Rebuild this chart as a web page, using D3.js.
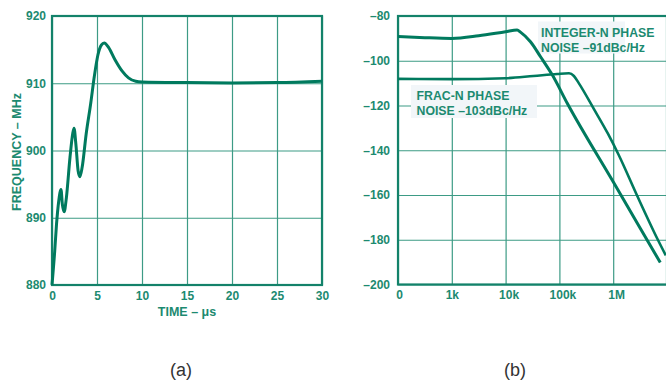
<!DOCTYPE html>
<html><head><meta charset="utf-8">
<script src="https://cdn.jsdelivr.net/npm/d3@7/dist/d3.min.js"></script>
<style>
body{margin:0;background:#fff;}
svg{display:block;}
text{font-family:"Liberation Sans",Arial,Helvetica,sans-serif;}
</style></head>
<body>
<svg id="c" width="666" height="382"></svg>
<script>
// ---- Chart (a): frequency settling ----
const timeUs = [0,0.3,0.5,0.75,1.0,1.15,1.35,1.6,2.0,2.3,2.45,2.65,2.9,3.1,3.35,3.8,4.3,4.7,5.1,5.5,5.8,6.3,7.0,7.8,8.5,9.3,10,15,20,25,30];
const freqMHz = [880,885,889,892.5,894.2,892,890.9,893,899,902.5,903.3,901,897,896.1,897.5,902.5,907,911,914.2,915.7,916,915.3,913.5,911.8,910.8,910.3,910.2,910.1,910.05,910.1,910.3];
const aXTicks = [0,5,10,15,20,25,30];
const aYTicks = [880,890,900,910,920];

// ---- Chart (b): phase noise ----
const intFreqHz = [100,316,1000,3160,10000,16400,18900,29000,44600,73600,140000,1000000,3160000,7500000];
const intDb = [-89.2,-89.7,-90.0,-88.8,-87.0,-86.25,-87.2,-91.5,-98.2,-106.3,-119,-154.1,-174.7,-190.2];
const fracFreqHz = [100,1000,10000,33000,91000,151000,186000,229000,436000,794000,1260000,2750000,6760000,9500000];
const fracDb = [-108.1,-108.2,-107.8,-106.8,-105.9,-105.6,-106.8,-110,-121.5,-132.5,-142,-160,-180,-187];
const bXTicks = [100,1000,10000,100000,1000000];
const bXLabels = ["0","1k","10k","100k","1M"];
const bYTicks = [-200,-180,-160,-140,-120,-100,-80];
const labelInt = ["INTEGER-N PHASE","NOISE \u201391dBc/Hz"];
const labelFrac = ["FRAC-N PHASE","NOISE \u2013103dBc/Hz"];

const TEAL_TXT = "#1c8a70", TEAL_LINE = "#007a5e", GRID = "#3d9b85", FRAME = "#13826a";
const svg = d3.select("#c");
const minus = v => String(v).replace("-", "\u2013");

function styleAxis(g){
  g.select(".domain").remove();
  g.selectAll(".tick line").attr("stroke", GRID).attr("stroke-width", 1.2);
  g.selectAll(".tick text").attr("fill", TEAL_TXT).attr("font-weight", "bold").attr("font-size", 12);
}

// Chart (a)
{
  const x = d3.scaleLinear().domain([0,30]).range([52,322]);
  const y = d3.scaleLinear().domain([880,920]).range([285,16]);
  const g = svg.append("g");
  g.append("g").attr("transform","translate(0,285)")
    .call(d3.axisBottom(x).tickValues(aXTicks).tickSize(-269).tickPadding(6).tickFormat(d3.format("d")))
    .call(styleAxis);
  g.append("g").attr("transform","translate(52,0)")
    .call(d3.axisLeft(y).tickValues(aYTicks).tickSize(-270).tickPadding(6).tickFormat(d3.format("d")))
    .call(styleAxis);
  g.append("rect").attr("x",52).attr("y",16).attr("width",270).attr("height",269)
    .attr("fill","none").attr("stroke",FRAME).attr("stroke-width",2.2);
  const line = d3.line().x((d,i)=>x(timeUs[i])).y(d=>y(d)).curve(d3.curveMonotoneX);
  g.append("path").datum(freqMHz).attr("d",line).attr("fill","none")
    .attr("stroke",TEAL_LINE).attr("stroke-width",3).attr("stroke-linejoin","round");
  g.append("text").attr("x",187).attr("y",316).attr("text-anchor","middle")
    .attr("fill",TEAL_TXT).attr("font-weight","bold").attr("font-size",12.5).text("TIME \u2013 \u03bcs");
  g.append("text").attr("transform","translate(21,152) rotate(-90)").attr("text-anchor","middle")
    .attr("fill",TEAL_TXT).attr("font-weight","bold").attr("font-size",12.5).text("FREQUENCY \u2013 MHz");
  g.append("text").attr("x",181).attr("y",376).attr("text-anchor","middle")
    .attr("fill","#333").attr("font-size",18).text("(a)");
}

// Chart (b)
{
  const x = d3.scaleLog().domain([100,1e7]).range([398,667]);
  const y = d3.scaleLinear().domain([-200,-80]).range([284.5,16]);
  const g = svg.append("g");
  const xa = g.append("g").attr("transform","translate(0,284.5)")
    .call(d3.axisBottom(x).tickValues(bXTicks).tickSize(-268.5).tickPadding(6).tickFormat((d,i)=>bXLabels[i]))
    .call(styleAxis);
  xa.selectAll(".tick text").attr("dx", (d,i)=> i===0 ? 1 : (i===1 ? 0 : 3));
  g.append("g").attr("transform","translate(398,0)")
    .call(d3.axisLeft(y).tickValues(bYTicks).tickSize(-270).tickPadding(8).tickFormat(minus))
    .call(styleAxis);
  g.append("rect").attr("x",398).attr("y",16).attr("width",269).attr("height",268.5)
    .attr("fill","none").attr("stroke",FRAME).attr("stroke-width",2.2);

  // label boxes
  const boxes = [{lines:labelInt, bx:538, by:21.5, bw:87, bh:32, tx:541, ty:37.3},
                 {lines:labelFrac, bx:411, by:85, bw:126, bh:33, tx:416.5, ty:100}];
  boxes.forEach(b=>{
    g.append("rect").attr("x",b.bx).attr("y",b.by).attr("width",b.bw).attr("height",b.bh).attr("fill","#f2f6f9");
  });

  const line = d3.line().curve(d3.curveMonotoneX);
  const intPts = intFreqHz.map((f,i)=>[x(f), y(intDb[i])]);
  const fracPts = fracFreqHz.map((f,i)=>[x(f), y(fracDb[i])]);
  g.append("path").attr("d",line(intPts)).attr("fill","none").attr("stroke",TEAL_LINE).attr("stroke-width",3);
  g.append("path").attr("d",line(fracPts)).attr("fill","none").attr("stroke",TEAL_LINE).attr("stroke-width",2.6);

  boxes.forEach(b=>{
    b.lines.forEach((t,k)=>{
      g.append("text").attr("x",b.tx).attr("y",b.ty + k*14.6).attr("fill",TEAL_TXT)
        .attr("font-weight","bold").attr("font-size",12.3).text(t);
    });
  });
  g.append("text").attr("x",515).attr("y",376).attr("text-anchor","middle")
    .attr("fill","#333").attr("font-size",18).text("(b)");
}
</script>
</body></html>
